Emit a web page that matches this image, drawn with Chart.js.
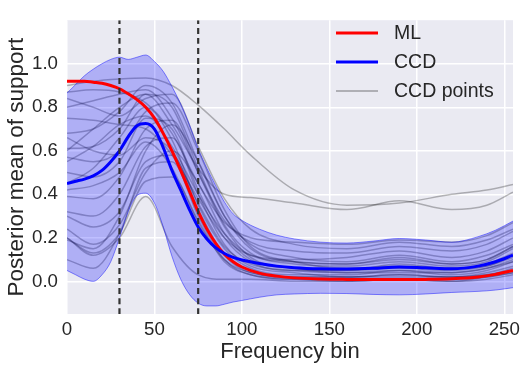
<!DOCTYPE html>
<html>
<head>
<meta charset="utf-8">
<script src="https://cdn.jsdelivr.net/npm/chart.js@4.4.0/dist/chart.umd.min.js"></script>
<style>
  html, body { margin: 0; padding: 0; background: #fff; }
  #wrap { width: 526px; height: 372px; }
</style>
</head>
<body>
<div id="wrap"><canvas id="chart" width="526" height="372"></canvas></div>
<script>
// frequency bins where the smooth curves were sampled
const curveX = [0, 5, 10, 15, 20, 25, 30, 35, 40, 45, 50, 55, 60, 65, 70, 75, 80, 85, 90, 95, 100,
                110, 120, 130, 145, 160, 175, 190, 205, 220, 235, 245, 255];
const mlValues = [0.92, 0.92, 0.92, 0.915, 0.91, 0.90, 0.885, 0.862, 0.835, 0.80, 0.75, 0.68, 0.60, 0.51, 0.415, 0.32, 0.24,
                  0.175, 0.125, 0.09, 0.066, 0.038, 0.024, 0.016, 0.011, 0.009, 0.008, 0.008, 0.009, 0.012, 0.02, 0.032, 0.05];
const ccdValues = [0.45, 0.46, 0.47, 0.485, 0.51, 0.55, 0.60, 0.665, 0.715, 0.725, 0.70, 0.615, 0.51, 0.42, 0.33, 0.25, 0.195,
                   0.155, 0.128, 0.11, 0.098, 0.082, 0.07, 0.063, 0.058, 0.057, 0.06, 0.066, 0.062, 0.058, 0.07, 0.09, 0.12];
const bandUpper = [0.865, 0.905, 0.945, 0.975, 1.0, 1.02, 1.03, 1.02, 1.03, 1.04, 1.01, 0.965, 0.895, 0.815, 0.72, 0.61, 0.52,
                   0.44, 0.365, 0.31, 0.28, 0.24, 0.212, 0.195, 0.18, 0.176, 0.185, 0.197, 0.19, 0.18, 0.205, 0.235, 0.277];
const bandLower = [0.05, 0.03, 0.01, 0.0, 0.03, 0.09, 0.20, 0.32, 0.395, 0.405, 0.36, 0.25, 0.115, 0.01, -0.06, -0.10, -0.113,
                   -0.113, -0.105, -0.095, -0.088, -0.073, -0.062, -0.058, -0.055, -0.056, -0.06, -0.062, -0.058, -0.051, -0.046, -0.04, -0.029];

// the individual CCD point curves
const pointX = [0, 15, 30, 45, 60, 75, 90, 105, 130, 160, 190, 220, 240, 255];
const ccdPointCurves = [
  [0.90, 0.92, 0.93, 0.935, 0.90, 0.81, 0.70, 0.58, 0.42, 0.35, 0.36, 0.40, 0.42, 0.445],
  [0.60, 0.70, 0.80, 0.86, 0.72, 0.52, 0.40, 0.385, 0.36, 0.33, 0.37, 0.33, 0.35, 0.41],
  [0.87, 0.88, 0.87, 0.82, 0.68, 0.45, 0.27, 0.20, 0.18, 0.17, 0.19, 0.18, 0.21, 0.27],
  [0.80, 0.83, 0.86, 0.88, 0.75, 0.50, 0.28, 0.18, 0.14, 0.13, 0.16, 0.14, 0.17, 0.23],
  [0.75, 0.74, 0.72, 0.70, 0.58, 0.38, 0.20, 0.12, 0.10, 0.11, 0.14, 0.11, 0.14, 0.20],
  [0.68, 0.70, 0.78, 0.90, 0.82, 0.55, 0.30, 0.17, 0.11, 0.09, 0.12, 0.09, 0.12, 0.17],
  [0.61, 0.62, 0.70, 0.86, 0.80, 0.52, 0.26, 0.13, 0.08, 0.07, 0.09, 0.07, 0.09, 0.15],
  [0.57, 0.55, 0.60, 0.78, 0.82, 0.60, 0.33, 0.16, 0.09, 0.06, 0.07, 0.06, 0.08, 0.13],
  [0.50, 0.48, 0.55, 0.75, 0.70, 0.42, 0.20, 0.09, 0.05, 0.05, 0.06, 0.05, 0.07, 0.11],
  [0.45, 0.52, 0.66, 0.80, 0.65, 0.35, 0.15, 0.06, 0.03, 0.03, 0.05, 0.03, 0.05, 0.09],
  [0.39, 0.38, 0.48, 0.70, 0.74, 0.50, 0.25, 0.11, 0.06, 0.04, 0.04, 0.04, 0.06, 0.10],
  [0.32, 0.30, 0.40, 0.62, 0.66, 0.40, 0.17, 0.07, 0.04, 0.02, 0.03, 0.02, 0.04, 0.07],
  [0.30, 0.25, 0.32, 0.55, 0.58, 0.33, 0.12, 0.04, 0.02, 0.02, 0.02, 0.02, 0.03, 0.06],
  [0.24, 0.17, 0.26, 0.50, 0.60, 0.45, 0.22, 0.10, 0.06, 0.05, 0.08, 0.06, 0.07, 0.12],
  [0.20, 0.13, 0.22, 0.46, 0.48, 0.28, 0.09, 0.03, 0.01, 0.01, 0.01, 0.01, 0.02, 0.04],
  [0.19, 0.15, 0.30, 0.60, 0.72, 0.55, 0.30, 0.15, 0.09, 0.08, 0.10, 0.08, 0.10, 0.16],
  [0.10, 0.06, 0.22, 0.52, 0.55, 0.30, 0.10, 0.03, 0.01, 0.00, 0.01, 0.00, 0.01, 0.03],
  [0.20, 0.12, 0.20, 0.39, 0.16, 0.03, 0.01, 0.01, 0.00, 0.00, 0.01, 0.00, 0.02, 0.04],
  [0.55, 0.62, 0.72, 0.76, 0.62, 0.40, 0.22, 0.12, 0.09, 0.08, 0.11, 0.08, 0.10, 0.16],
  [0.66, 0.60, 0.58, 0.66, 0.60, 0.36, 0.16, 0.08, 0.05, 0.04, 0.05, 0.04, 0.06, 0.09],
  [0.42, 0.44, 0.50, 0.64, 0.52, 0.27, 0.10, 0.04, 0.02, 0.02, 0.03, 0.02, 0.03, 0.05],
  [0.84, 0.80, 0.76, 0.84, 0.86, 0.62, 0.38, 0.24, 0.17, 0.15, 0.18, 0.16, 0.19, 0.24]
];

const markerBins = [30, 75];
const xTicks = [0, 50, 100, 150, 200, 250];
const yTicks = [0.0, 0.2, 0.4, 0.6, 0.8, 1.0];
const xRange = [0, 255];
const yRange = [-0.15, 1.2];
const legendLabels = ['ML', 'CCD', 'CCD points'];

const FONT = '"Liberation Sans", Arial, sans-serif';
const TEXT = '#262626';
const RED = '#ff0000';
const BLUE = '#0000ff';
const GREY = 'rgba(0,0,0,0.27)';
const LEGEND_GREY = 'rgba(0,0,0,0.25)';

const pts = (xs, ys) => xs.map((x, i) => ({ x: x, y: ys[i] }));

const datasets = [];
markerBins.forEach(b => datasets.push({
  data: [{ x: b, y: yRange[0] }, { x: b, y: yRange[1] }],
  borderColor: '#333333', borderWidth: 2.2, borderDash: [6, 4], order: 0
}));
datasets.push({ label: 'CCD', data: pts(curveX, ccdValues), borderColor: BLUE, borderWidth: 3, order: 1 });
datasets.push({ label: 'ML', data: pts(curveX, mlValues), borderColor: RED, borderWidth: 3, order: 2 });
datasets.push({ data: pts(curveX, bandUpper), borderColor: 'rgba(0,0,255,0.45)', borderWidth: 1,
                backgroundColor: 'rgba(0,0,255,0.25)', fill: '+1', order: 3 });
datasets.push({ data: pts(curveX, bandLower), borderColor: 'rgba(0,0,255,0.45)', borderWidth: 1, order: 4 });
ccdPointCurves.forEach(c => datasets.push({ data: pts(pointX, c), borderColor: GREY, borderWidth: 1.5, order: 5 }));

const plotBackground = {
  id: 'plotBackground',
  beforeDraw(chart) {
    const { ctx, chartArea: a } = chart;
    ctx.save();
    ctx.fillStyle = '#eaeaf2';
    ctx.fillRect(a.left, a.top, a.right - a.left, a.bottom - a.top);
    ctx.restore();
  }
};

// legend drawn as a vertical list inside the plot, top right
const lineLegend = {
  id: 'lineLegend',
  afterDraw(chart) {
    const ctx = chart.ctx;
    const colors = [RED, BLUE, LEGEND_GREY];
    const widths = [3, 3, 2];
    ctx.save();
    ctx.font = '19.5px ' + FONT;
    ctx.textBaseline = 'middle';
    ctx.fillStyle = TEXT;
    legendLabels.forEach((lab, i) => {
      const y = 33 + i * 29;
      ctx.strokeStyle = colors[i];
      ctx.lineWidth = widths[i];
      ctx.beginPath();
      ctx.moveTo(336, y);
      ctx.lineTo(378, y);
      ctx.stroke();
      ctx.fillText(lab, 394, y + 0.5);
    });
    ctx.restore();
  }
};

new Chart(document.getElementById('chart'), {
  type: 'line',
  data: { datasets: datasets },
  options: {
    responsive: false,
    animation: false,
    devicePixelRatio: 1,
    layout: { padding: { left: 0, right: 13, top: 7, bottom: 0 } },
    elements: {
      point: { radius: 0 },
      line: { cubicInterpolationMode: 'monotone', fill: false }
    },
    plugins: { legend: { display: false }, tooltip: { enabled: false } },
    scales: {
      x: {
        type: 'linear', min: xRange[0], max: xRange[1],
        afterBuildTicks: s => { s.ticks = xTicks.map(v => ({ value: v })); },
        afterFit: s => { s.height = 58; },
        grid: { color: '#ffffff', lineWidth: 1.5, drawTicks: false },
        border: { display: false },
        ticks: { font: { family: FONT, size: 18.7 }, color: TEXT, padding: 5, maxRotation: 0 },
        title: { display: true, text: 'Frequency bin', color: TEXT, font: { family: FONT, size: 22 },
                 padding: { top: 0, bottom: 7 } }
      },
      y: {
        type: 'linear', min: yRange[0], max: yRange[1],
        afterBuildTicks: s => { s.ticks = yTicks.map(v => ({ value: v })); },
        afterFit: s => { s.width = 67; },
        grid: { color: '#ffffff', lineWidth: 1.5, drawTicks: false },
        border: { display: false },
        ticks: { font: { family: FONT, size: 18.7 }, color: TEXT, padding: 9, callback: v => v.toFixed(1) },
        title: { display: true, text: 'Posterior mean of support', color: TEXT, font: { family: FONT, size: 22.5 },
                 padding: { top: 3, bottom: 0 } }
      }
    }
  },
  plugins: [plotBackground, lineLegend]
});
</script>
</body>
</html>
